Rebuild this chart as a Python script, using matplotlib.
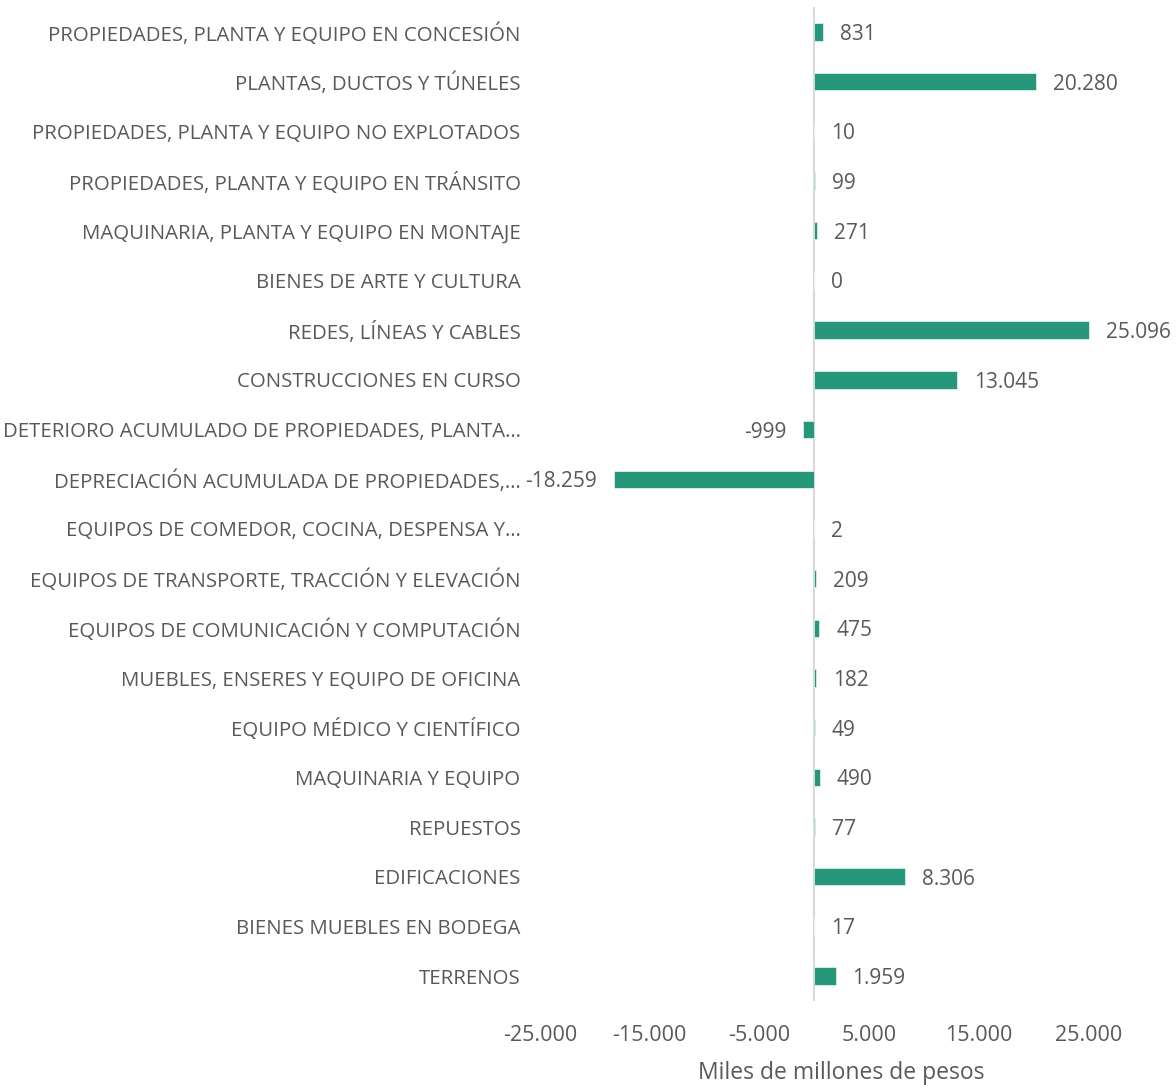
import matplotlib.pyplot as plt
import numpy as np

plt.rcParams['font.family'] = ['Open Sans', 'DejaVu Sans']

categorias = [
    'PROPIEDADES, PLANTA Y EQUIPO EN CONCESIÓN',
    'PLANTAS, DUCTOS Y TÚNELES',
    'PROPIEDADES, PLANTA Y EQUIPO NO EXPLOTADOS',
    'PROPIEDADES, PLANTA Y EQUIPO EN TRÁNSITO',
    'MAQUINARIA, PLANTA Y EQUIPO EN MONTAJE',
    'BIENES DE ARTE Y CULTURA',
    'REDES, LÍNEAS Y CABLES',
    'CONSTRUCCIONES EN CURSO',
    'DETERIORO ACUMULADO DE PROPIEDADES, PLANTA…',
    'DEPRECIACIÓN ACUMULADA DE PROPIEDADES,…',
    'EQUIPOS DE COMEDOR, COCINA, DESPENSA Y…',
    'EQUIPOS DE TRANSPORTE, TRACCIÓN Y ELEVACIÓN',
    'EQUIPOS DE COMUNICACIÓN Y COMPUTACIÓN',
    'MUEBLES, ENSERES Y EQUIPO DE OFICINA',
    'EQUIPO MÉDICO Y CIENTÍFICO',
    'MAQUINARIA Y EQUIPO',
    'REPUESTOS',
    'EDIFICACIONES',
    'BIENES MUEBLES EN BODEGA',
    'TERRENOS',
]
valores = [831, 20280, 10, 99, 271, 0, 25096, 13045, -999, -18259,
           2, 209, 475, 182, 49, 490, 77, 8306, 17, 1959]

ticks = [-25000, -15000, -5000, 5000, 15000, 25000]

verde = '#26977B'
gris = '#595959'

def miles(v):
    return f'{v:,}'.replace(',', '.')

fig = plt.figure(figsize=(11.76, 10.85), dpi=100)
ax = fig.add_axes([0.4592, 0.0774, 0.5128, 0.916])

y = np.arange(len(categorias))
ax.barh(y, valores, height=0.35, color=verde, edgecolor='white', linewidth=0.4, zorder=2)
ax.axvline(0, color='#D9D9D9', linewidth=1.5, zorder=1)

for yi, v in zip(y, valores):
    if v < 0:
        ax.annotate(miles(v), (v, yi), xytext=(-12, 0), textcoords='offset points',
                    ha='right', va='center_baseline', fontsize=15, color=gris)
    else:
        ax.annotate(miles(v), (v, yi), xytext=(12, 0), textcoords='offset points',
                    ha='left', va='center_baseline', fontsize=15, color=gris)

ax.set_xlim(-25000, 30000)
ax.set_ylim(len(categorias) - 0.5, -0.5)
ax.set_xticks(ticks)
ax.set_xticklabels([miles(t) for t in ticks], fontsize=15.5, color=gris)
ax.set_yticks(y)
ax.set_yticklabels(categorias, fontsize=14.7, color=gris)
ax.tick_params(axis='both', length=0)
ax.tick_params(axis='x', pad=17)
ax.tick_params(axis='y', pad=14)
for s in ax.spines.values():
    s.set_visible(False)

ax.set_xlabel('Miles de millones de pesos', fontsize=16.5, color=gris, labelpad=11)

fig.savefig('out.png', dpi=100)
